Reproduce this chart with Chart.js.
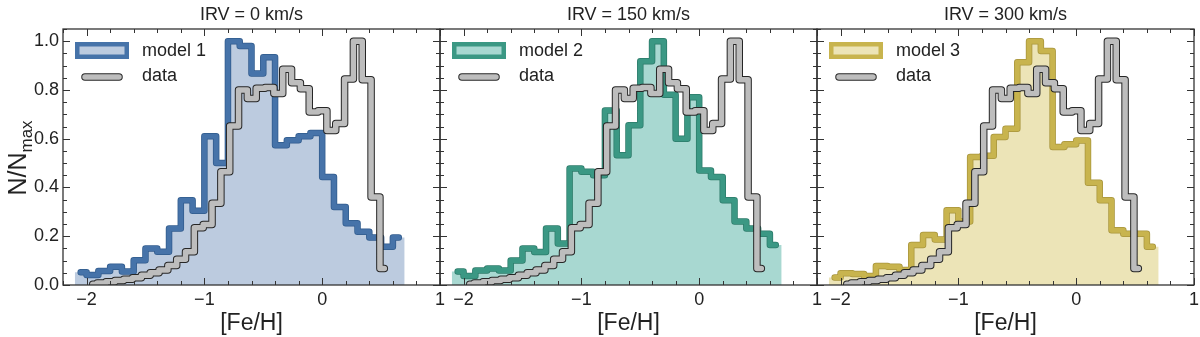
<!DOCTYPE html>
<html>
<head>
<meta charset="utf-8">
<title>[Fe/H] distributions</title>
<script src="https://cdn.jsdelivr.net/npm/chart.js@4.4.0/dist/chart.umd.min.js"></script>
<style>
html, body { margin: 0; padding: 0; background: #fff; }
#wrap { position: relative; width: 1200px; height: 337px; overflow: hidden; background: #fff; }
#wrap canvas { position: absolute; top: 0; }
</style>
</head>
<body>
<div id="wrap">
  <canvas id="p0" width="460" height="337"></canvas>
  <canvas id="p1" width="460" height="337"></canvas>
  <canvas id="p2" width="460" height="337"></canvas>
</div>
<script>
// panel titles and legend names
const panelTitles = ['IRV = 0 km/s', 'IRV = 150 km/s', 'IRV = 300 km/s'];
const modelNames = ['model 1', 'model 2', 'model 3'];

// histogram bins ([Fe/H])
const modelBinStart = -2.1, modelBinWidth = 0.1;
const dataBinStart = -1.985, dataBinWidth = 0.075;

// N/Nmax per bin
const model1 = [0.052, 0.041, 0.057, 0.075, 0.055, 0.102, 0.15, 0.136, 0.232, 0.348, 0.305, 0.61, 0.50, 1.0,
  0.98, 0.867, 0.934, 0.573, 0.594, 0.61, 0.623, 0.443, 0.32, 0.253, 0.218, 0.195, 0.157, 0.195];
const model2 = [0.055, 0.037, 0.059, 0.068, 0.059, 0.10, 0.15, 0.135, 0.232, 0.17, 0.478, 0.464, 0.45, 0.716,
  0.532, 0.655, 0.918, 1.0, 0.78, 0.60, 0.77, 0.47, 0.443, 0.348, 0.26, 0.232, 0.21, 0.164];
const model3 = [0.031, 0.048, 0.045, 0.037, 0.078, 0.075, 0.062, 0.164, 0.205, 0.187, 0.307, 0.26, 0.525, 0.53,
  0.607, 0.641, 0.914, 1.0, 0.96, 0.566, 0.577, 0.593, 0.419, 0.348, 0.225, 0.21, 0.21, 0.157];
const dataValues = [0.003, 0.008, 0.013, 0.018, 0.024, 0.03, 0.04, 0.05, 0.062, 0.08, 0.106, 0.136, 0.235, 0.248,
  0.335, 0.465, 0.652, 0.80, 0.765, 0.807, 0.81, 0.785, 0.885, 0.83, 0.805, 0.71, 0.715, 0.634, 0.662, 0.845,
  1.0, 0.842, 0.361, 0.068];

// axes
const xMajorTicks = [-2, -1, 0, 1];
const yMajorTicks = [0, 0.2, 0.4, 0.6, 0.8, 1.0];
const xMin = -2.2, xMax = 1.0, yMin = 0, yMax = 1.05;

const modelLine = ['#4673a9', '#3b9884', '#c8b44e'];
const modelEdge = ['#305b8d', '#2c7b6a', '#a8953c'];
const modelFill = ['#bccbdf', '#a8d8d1', '#ece4b7'];
const dataGray = '#bdbdbd';
const dataEdge = '#262626';
const ink = '#222';

Chart.defaults.font.family = '"Liberation Sans", Arial, sans-serif';
Chart.defaults.color = ink;

function centerPoints(start, width, vals) {
    return vals.map((v, i) => ({ x: start + (i + 0.5) * width, y: v }));
}

function edgePoints(start, width, vals) {
    const pts = vals.map((v, i) => ({ x: start + i * width, y: v }));
    pts.push({ x: start + vals.length * width, y: vals[vals.length - 1] });
    return pts;
}

function minorTicks(lo, hi, step, majors) {
    const out = [];
    for (let k = 0; lo + k * step <= hi + 1e-9; k++) {
        const v = lo + k * step;
        if (!majors.some(m => Math.abs(m - v) < 1e-6)) out.push(v);
    }
    return out;
}
const xMinorTicks = minorTicks(-2.2, 1.0, 0.2, xMajorTicks);
const yMinorTicks = minorTicks(0, 1.05, 0.05, yMajorTicks);

// inward ticks on all four sides + frame
const frameTicks = {
    id: 'frameTicks',
    afterDatasetsDraw(chart) {
        const { ctx, chartArea: a, scales: { x, y } } = chart;
        ctx.save();
        ctx.strokeStyle = '#333';
        ctx.lineWidth = 1;
        ctx.beginPath();
        const xt = (list, len) => list.forEach(v => {
            const px = Math.round(x.getPixelForValue(v)) + 0.5;
            ctx.moveTo(px, a.bottom); ctx.lineTo(px, a.bottom - len);
            ctx.moveTo(px, a.top); ctx.lineTo(px, a.top + len);
        });
        const yt = (list, len) => list.forEach(v => {
            const py = Math.round(y.getPixelForValue(v)) + 0.5;
            ctx.moveTo(a.left, py); ctx.lineTo(a.left + len, py);
            ctx.moveTo(a.right, py); ctx.lineTo(a.right - len, py);
        });
        xt(xMajorTicks, 7); xt(xMinorTicks, 4);
        yt(yMajorTicks, 7); yt(yMinorTicks, 4);
        ctx.stroke();
        ctx.lineWidth = 1.3;
        ctx.strokeRect(a.left, a.top, a.right - a.left, a.bottom - a.top);
        ctx.restore();
    }
};

function makePanel(idx, values) {
    const canvas = document.getElementById('p' + idx);
    canvas.style.left = (idx * 377) + 'px';

    const legendPlugin = {
        id: 'legendBox',
        afterDraw(chart) {
            const { ctx, chartArea: a } = chart;
            ctx.save();
            // model patch
            ctx.fillStyle = modelFill[idx];
            ctx.strokeStyle = modelLine[idx];
            ctx.lineWidth = 4.5;
            ctx.fillRect(a.left + 14.25, a.top + 15.25, 49.5, 12.5);
            ctx.strokeRect(a.left + 14.25, a.top + 15.25, 49.5, 12.5);
            // data line sample
            ctx.lineCap = 'round';
            ctx.beginPath();
            ctx.moveTo(a.left + 22, a.top + 48);
            ctx.lineTo(a.left + 56, a.top + 48);
            ctx.strokeStyle = dataEdge; ctx.lineWidth = 7.5; ctx.stroke();
            ctx.strokeStyle = dataGray; ctx.lineWidth = 5.5; ctx.stroke();
            // texts
            ctx.fillStyle = ink;
            ctx.font = '18px "Liberation Sans", Arial, sans-serif';
            ctx.textBaseline = 'middle';
            ctx.textAlign = 'left';
            ctx.fillText(modelNames[idx], a.left + 79, a.top + 22);
            ctx.fillText('data', a.left + 79, a.top + 47.5);
            // y-axis title on the first panel: N/N_max
            if (idx === 0) {
                const big = '25px "Liberation Sans", Arial, sans-serif';
                const small = '17px "Liberation Sans", Arial, sans-serif';
                ctx.font = big;
                const w1 = ctx.measureText('N/N').width;
                ctx.font = small;
                const w2 = ctx.measureText('max').width;
                const cy = (a.top + a.bottom) / 2 + 1;
                ctx.translate(26, cy + (w1 + w2) / 2);
                ctx.rotate(-Math.PI / 2);
                ctx.textBaseline = 'alphabetic';
                ctx.font = big;
                ctx.fillText('N/N', 0, 0);
                ctx.font = small;
                ctx.fillText('max', w1, 5.5);
            }
            ctx.restore();
        }
    };

    // Chart.js paints higher "order" first, so the data line (order 1) ends on top
    const lineBase = { pointRadius: 0, fill: false, stepped: 'middle', clip: 0,
        borderCapStyle: 'round', borderJoinStyle: 'round' };

    return new Chart(canvas, {
        type: 'line',
        data: {
            datasets: [
                { label: modelNames[idx] + ' fill', order: 5,
                  data: edgePoints(modelBinStart, modelBinWidth, values),
                  stepped: 'before', fill: 'origin', backgroundColor: modelFill[idx],
                  borderColor: 'rgba(0,0,0,0)', borderWidth: 0, pointRadius: 0, clip: 0 },
                { ...lineBase, label: modelNames[idx] + ' edge', order: 4,
                  data: centerPoints(modelBinStart, modelBinWidth, values),
                  borderColor: modelEdge[idx], borderWidth: 6.5 },
                { ...lineBase, label: modelNames[idx], order: 3,
                  data: centerPoints(modelBinStart, modelBinWidth, values),
                  borderColor: modelLine[idx], borderWidth: 5 },
                { ...lineBase, label: 'data edge', order: 2,
                  data: centerPoints(dataBinStart, dataBinWidth, dataValues),
                  borderColor: dataEdge, borderWidth: 7.5 },
                { ...lineBase, label: 'data', order: 1,
                  data: centerPoints(dataBinStart, dataBinWidth, dataValues),
                  borderColor: dataGray, borderWidth: 5.5 }
            ]
        },
        options: {
            responsive: false,
            animation: false,
            events: [],
            layout: { padding: { left: 0, right: 20, top: 0, bottom: 0 } },
            plugins: {
                legend: { display: false },
                tooltip: { enabled: false },
                title: {
                    display: true, text: panelTitles[idx], fullSize: false,
                    font: { size: 18, weight: 'normal' }, color: ink,
                    padding: { top: 4, bottom: 3.4 }
                }
            },
            scales: {
                x: {
                    type: 'linear', min: xMin, max: xMax,
                    grid: { display: false, drawTicks: false }, border: { display: false },
                    afterBuildTicks: s => { s.ticks = xMajorTicks.map(v => ({ value: v })); },
                    afterFit: s => { s.height = 52; },
                    ticks: {
                        padding: 4, maxRotation: 0, autoSkip: false,
                        font: { size: 18 }, color: ink,
                        callback: v => (v < 0 ? '\u2212' + Math.abs(v) : String(v))
                    },
                    title: { display: true, text: '[Fe/H]', font: { size: 23 }, color: ink,
                             padding: { top: 0, bottom: 0 } }
                },
                y: {
                    type: 'linear', min: yMin, max: yMax,
                    grid: { display: false, drawTicks: false }, border: { display: false },
                    afterBuildTicks: s => { s.ticks = yMajorTicks.map(v => ({ value: v })); },
                    afterFit: s => { s.width = 63; },
                    ticks: {
                        display: idx === 0, padding: 4,
                        font: { size: 18 }, color: ink,
                        callback: v => v.toFixed(1)
                    }
                }
            }
        },
        plugins: [frameTicks, legendPlugin]
    });
}

makePanel(0, model1);
makePanel(1, model2);
makePanel(2, model3);
</script>
</body>
</html>
